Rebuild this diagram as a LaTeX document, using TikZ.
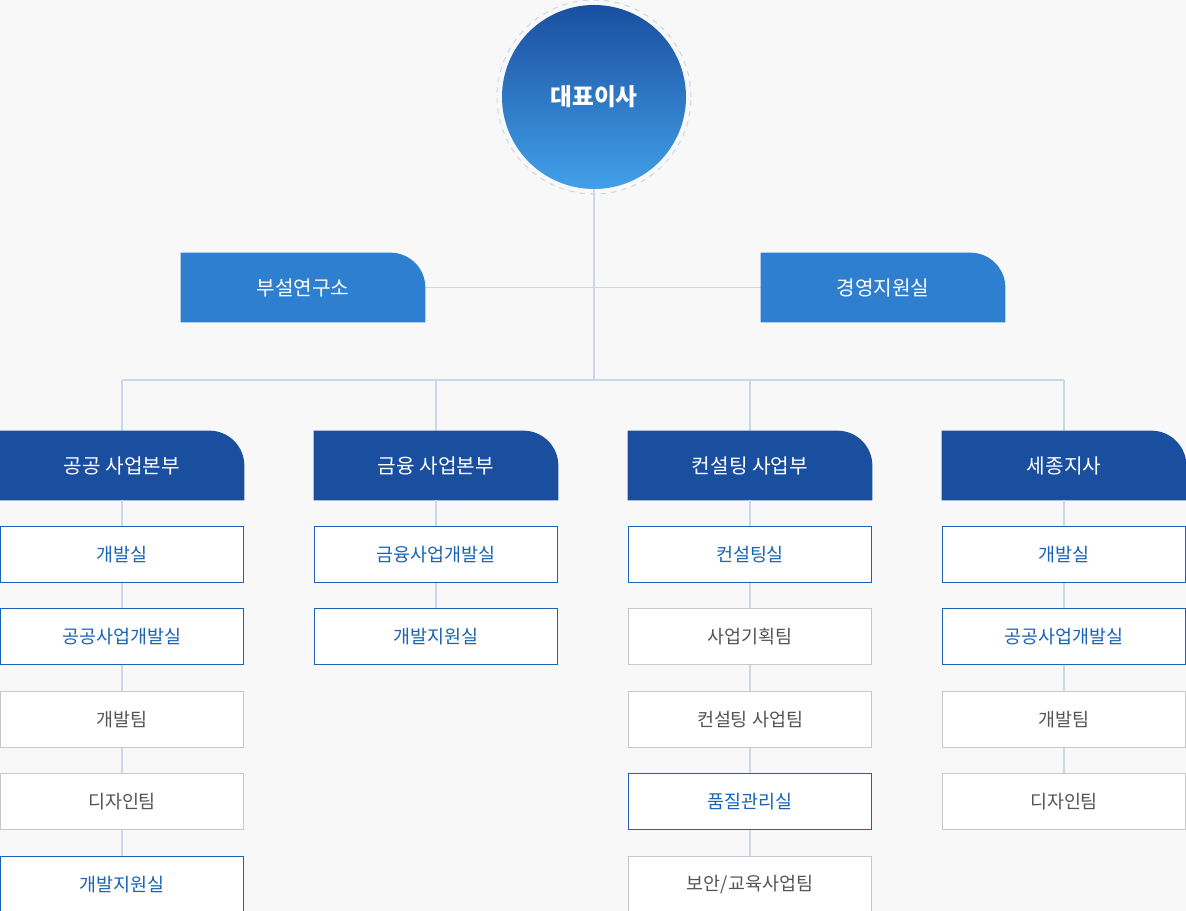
\documentclass[tikz,border=0pt]{standalone}
\usepackage{fontspec}
\setmainfont{Noto Sans CJK KR}
\usetikzlibrary{positioning}
\definecolor{bgcol}{HTML}{F8F8F8}
\definecolor{darkblue}{HTML}{1A4FA0}
\definecolor{midblue}{HTML}{2E7FCF}
\definecolor{lightblue}{HTML}{42A0E8}
\definecolor{linecol}{HTML}{C9D9EA}
\definecolor{bluetext}{HTML}{1A63B5}
\definecolor{graytext}{HTML}{555555}
\definecolor{grayline}{HTML}{C8C8C8}
\tikzset{
  conn/.style={draw=linecol, line width=0.7pt},
  headbox/.style={minimum width=244*0.02cm, minimum height=69*0.02cm, inner sep=0pt, text=white, font=\fontsize{11.5}{14}\selectfont},
  subblue/.style={draw=bluetext, fill=white, line width=0.6pt, text=bluetext, minimum width=243*0.02cm, minimum height=56*0.02cm, inner sep=0pt, font=\fontsize{10.5}{13}\selectfont},
  subgray/.style={subblue, draw=grayline, text=graytext},
}
% tab shape behind a node: rounded top right corner
\newcommand{\TabFill}[2]{%
  \fill[#2] (#1.south west) -- (#1.north west) [rounded corners=0.7cm] -- (#1.north east) [sharp corners] -- (#1.south east) -- cycle;%
}
\begin{document}
\begin{tikzpicture}[x=0.02cm, y=-0.02cm]
  % Background
  \fill[bgcol] (0,0) rectangle (1186,911);
  \useasboundingbox (0,0) rectangle (1186,911);

  % CEO
  \draw[linecol, dashed, line width=0.6pt] (594,97) circle (97*0.02cm);
  \shade[top color=darkblue, bottom color=lightblue] (594,97) circle (92*0.02cm);
  \node[circle, minimum size=184*0.02cm, text=white, font=\bfseries\fontsize{13.5}{16}\selectfont] (ceo) at (594,97) {대표이사};
  \coordinate (bus) at (594,380);

  % Staff units
  \node[headbox] (lab) at (303,287.5) {};
  \node[headbox] (mgmt) at (883,287.5) {};
  \draw[conn] (ceo) -- (bus);
  \draw[conn] (lab.east) -- (mgmt.west);
  \TabFill{lab}{midblue}
  \TabFill{mgmt}{midblue}
  \node[headbox] at (lab) {부설연구소};
  \node[headbox] at (mgmt) {경영지원실};

  % Divisions
  \foreach \name/\x/\label in {pub/122/공공 사업본부, fin/436/금융 사업본부, con/750/컨설팅 사업부, sej/1064/세종지사}{
    \coordinate (\name top) at (\x,380);
    \node[headbox] (\name) at (\x,465.5) {};
    \draw[conn] (\name top) -- (\name.north);
    \TabFill{\name}{darkblue}
    \node[headbox] at (\name) {\label};
  }
  \draw[conn] (pubtop) -- (sejtop);

  % Teams
  \foreach \name/\list in {
      pub/{blue/개발실, blue/공공사업개발실, gray/개발팀, gray/디자인팀, blue/개발지원실},
      fin/{blue/금융사업개발실, blue/개발지원실},
      con/{blue/컨설팅실, gray/사업기획팀, gray/컨설팅 사업팀, blue/품질관리실, gray/{보안/교육사업팀}},
      sej/{blue/개발실, blue/공공사업개발실, gray/개발팀, gray/디자인팀}}{
    \foreach \kind/\label [count=\i, remember=\i as \j (initially 0)] in \list {
      \ifnum\j=0
        \node[sub\kind, below=25.4*0.02cm of \name] (\name\i) {\label};
        \draw[conn] (\name) -- (\name\i);
      \else
        \node[sub\kind, below=25.4*0.02cm of \name\j] (\name\i) {\label};
        \draw[conn] (\name\j) -- (\name\i);
      \fi
    }
  }
\end{tikzpicture}
\end{document}
